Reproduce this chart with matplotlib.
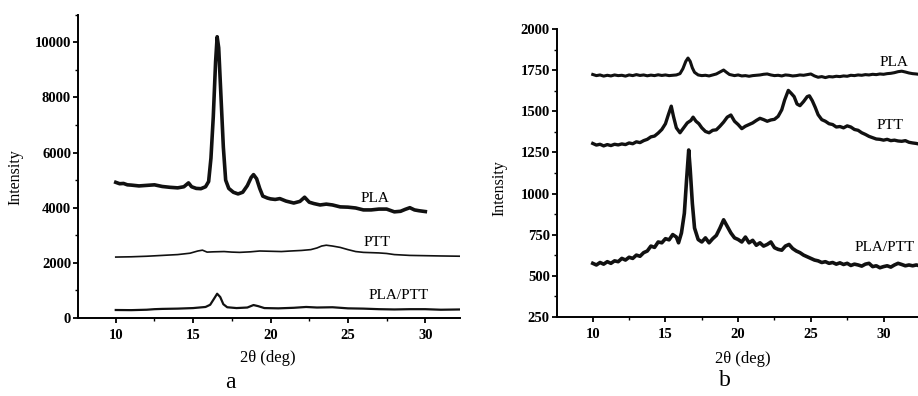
import matplotlib
matplotlib.use("Agg")
import matplotlib.pyplot as plt
from matplotlib.ticker import MultipleLocator

plt.rcParams['font.family'] = ['Liberation Serif', 'DejaVu Serif']

# ---------------- Panel a data ----------------
a_pla_x = [10.0, 10.25, 10.5, 10.75, 11.0, 11.5, 12.0, 12.5, 13.0, 13.5, 14.0, 14.4, 14.7, 14.9,
           15.2, 15.5, 15.8, 16.0, 16.15, 16.3, 16.45, 16.55, 16.65, 16.8, 16.95, 17.1, 17.3,
           17.6, 17.9, 18.2, 18.5, 18.75, 18.9, 19.1, 19.3, 19.5, 19.8, 20.0, 20.3, 20.6, 21.0,
           21.5, 21.9, 22.2, 22.5, 22.8, 23.2, 23.6, 24.0, 24.5, 25.0, 25.5, 26.0, 26.5, 27.0,
           27.5, 28.0, 28.4, 28.7, 29.0, 29.3, 29.6, 30.0]
a_pla_y = [4920, 4870, 4880, 4830, 4820, 4790, 4810, 4830, 4770, 4740, 4720, 4760, 4900, 4760,
           4700, 4690, 4760, 4950, 5800, 7300, 9300, 10200, 9800, 8000, 6200, 5000, 4700,
           4560, 4500, 4560, 4800, 5100, 5200, 5050, 4700, 4420, 4350, 4320, 4300, 4330, 4240,
           4170, 4230, 4380, 4200, 4150, 4100, 4130, 4100, 4030, 4020, 3990, 3920, 3920, 3950,
           3950, 3850, 3870, 3940, 4000, 3920, 3890, 3860]

a_ptt_x = [10, 11, 12, 13, 14, 14.8, 15.3, 15.6, 15.9, 16.3, 17, 17.5, 18, 18.7, 19.3, 20, 20.7,
           21.3, 22, 22.6, 23, 23.3, 23.6, 24.0, 24.5, 25.0, 25.5, 26, 27, 27.5, 28, 29, 30, 31,
           32.3]
a_ptt_y = [2210, 2220, 2240, 2270, 2300, 2350, 2430, 2460, 2390, 2400, 2410, 2390, 2380, 2400,
           2430, 2420, 2410, 2430, 2450, 2480, 2540, 2610, 2640, 2610, 2560, 2480, 2410, 2380,
           2360, 2340, 2300, 2270, 2260, 2250, 2240]

a_blend_x = [10, 11, 12, 12.5, 13, 14, 15, 15.8, 16.1, 16.35, 16.55, 16.75, 16.95, 17.2, 17.8,
             18.5, 18.9, 19.2, 19.6, 20.5, 21.5, 22.3, 23, 24, 25, 26, 27, 28, 29, 30, 31, 32.3]
a_blend_y = [290, 285, 300, 320, 330, 340, 360, 400, 480, 700, 880, 760, 500, 390, 360,
             380, 470, 430, 360, 350, 370, 400, 380, 390, 350, 340, 320, 310, 320, 320, 300, 310]

a_labels = ["PLA", "PTT", "PLA/PTT"]
a_label_pos = [(25.8, 4316), (26.0, 2738), (26.3, 834)]

# ---------------- Panel b data ----------------
b_pla_x = [10.0, 10.25, 10.5, 10.75, 11.0, 11.25, 11.5, 11.75, 12.0, 12.25, 12.5, 12.75, 13.0,
           13.25, 13.5, 13.75, 14.0, 14.25, 14.5, 14.75, 15.0, 15.25, 15.5, 15.75, 16.0, 16.2,
           16.4, 16.55, 16.7, 16.85, 17.0, 17.25, 17.5, 17.75, 18.0, 18.25, 18.5, 18.75, 19.0,
           19.2, 19.4, 19.75, 20.0, 20.25, 20.5, 20.75, 21.0, 21.25, 21.5, 21.75, 22.0, 22.25,
           22.5, 22.75, 23.0, 23.25, 23.5, 23.75, 24.0, 24.25, 24.5, 24.75, 25.0, 25.25, 25.5,
           25.75, 26.0, 26.25, 26.5, 26.75, 27.0, 27.25, 27.5, 27.75, 28.0, 28.25, 28.5, 28.75,
           29.0, 29.25, 29.5, 29.75, 30.0, 30.25, 30.5, 30.75, 31.0, 31.25, 31.5, 31.75, 32.0,
           32.25, 32.4]
b_pla_y = [1725, 1718, 1722, 1715, 1720, 1716, 1722, 1718, 1720, 1715, 1722, 1718, 1724,
           1719, 1722, 1717, 1721, 1718, 1723, 1719, 1722, 1718, 1720, 1722, 1730, 1760,
           1805, 1825, 1805, 1765, 1738, 1722, 1718, 1720, 1716, 1722, 1728, 1740, 1752,
           1738, 1725, 1718, 1722, 1716, 1718, 1714, 1718, 1720, 1722, 1726, 1728, 1722,
           1718, 1720, 1716, 1722, 1720, 1716, 1718, 1722, 1720, 1724, 1728, 1716, 1708,
           1712, 1706, 1712, 1710, 1714, 1712, 1716, 1714, 1720, 1718, 1722, 1720, 1724,
           1722, 1726, 1724, 1728, 1726, 1730, 1732, 1736, 1742, 1745, 1740, 1734, 1730,
           1728, 1726]

b_ptt_x = [10.0, 10.25, 10.5, 10.75, 11.0, 11.25, 11.5, 11.75, 12.0, 12.25, 12.5, 12.75, 13.0,
           13.25, 13.5, 13.75, 14.0, 14.25, 14.5, 14.75, 15.0, 15.2, 15.4, 15.55, 15.75, 16.0,
           16.25, 16.5, 16.75, 16.9, 17.1, 17.3, 17.5, 17.75, 18.0, 18.25, 18.5, 18.75, 19.0,
           19.25, 19.5, 19.75, 20.0, 20.25, 20.5, 20.75, 21.0, 21.25, 21.5, 21.75, 22.0, 22.25,
           22.5, 22.75, 23.0, 23.2, 23.45, 23.65, 23.85, 24.05, 24.25, 24.5, 24.75, 24.9, 25.1,
           25.3, 25.5, 25.75, 26.0, 26.25, 26.5, 26.75, 27.0, 27.25, 27.5, 27.75, 28.0, 28.25,
           28.5, 28.75, 29.0, 29.25, 29.5, 29.75, 30.0, 30.25, 30.5, 30.75, 31.0, 31.25, 31.5,
           31.75, 32.0, 32.25, 32.4]
b_ptt_y = [1305, 1295, 1300, 1290, 1298, 1292, 1300, 1296, 1302, 1298, 1308, 1303, 1315,
           1310, 1322, 1330, 1345, 1350, 1368, 1390, 1425, 1480, 1532, 1470, 1400, 1370,
           1400, 1430, 1445, 1465, 1440, 1425, 1400, 1378, 1370, 1385, 1388, 1410, 1435,
           1465, 1478, 1440, 1420, 1395, 1410, 1420, 1430, 1445, 1458, 1450, 1440, 1448,
           1452, 1470, 1510, 1570, 1628, 1610, 1590, 1545, 1535, 1560, 1590, 1595, 1565,
           1525, 1480, 1450, 1440, 1425, 1420, 1405, 1408, 1400, 1412, 1405, 1390, 1385,
           1370, 1360, 1348, 1340, 1332, 1330, 1325, 1330, 1322, 1325, 1320, 1318, 1322,
           1312, 1308, 1305, 1302]

b_blend_x = [10.0, 10.25, 10.5, 10.75, 11.0, 11.25, 11.5, 11.75, 12.0, 12.25, 12.5, 12.75, 13.0,
             13.25, 13.5, 13.75, 14.0, 14.25, 14.5, 14.75, 15.0, 15.25, 15.5, 15.75, 15.9, 16.1,
             16.3, 16.45, 16.6, 16.7, 16.85, 17.0, 17.25, 17.5, 17.75, 18.0, 18.25, 18.5, 18.75,
             19.0, 19.25, 19.5, 19.75, 20.0, 20.25, 20.5, 20.75, 21.0, 21.25, 21.5, 21.75, 22.0,
             22.25, 22.5, 22.75, 23.0, 23.25, 23.5, 23.75, 24.0, 24.25, 24.5, 24.75, 25.0, 25.25,
             25.5, 25.75, 26.0, 26.25, 26.5, 26.75, 27.0, 27.25, 27.5, 27.75, 28.0, 28.25, 28.5,
             28.75, 29.0, 29.25, 29.5, 29.75, 30.0, 30.25, 30.5, 30.75, 31.0, 31.25, 31.5, 31.75,
             32.0, 32.25, 32.4]
b_blend_y = [575, 565, 580, 570, 585, 575, 590, 585, 605, 595, 612, 605, 625,
             618, 640, 650, 680, 672, 705, 700, 725, 718, 750, 735, 700, 760,
             880, 1080, 1265, 1150, 940, 790, 720, 705, 730, 700, 725, 745, 790,
             840, 800, 760, 730, 720, 705, 735, 700, 715, 685, 700, 680, 690,
             705, 670, 660, 655, 680, 690, 665, 650, 640, 625, 615, 605, 595,
             590, 580, 585, 575, 580, 570, 578, 568, 575, 562, 570, 565, 558,
             570, 575, 555, 560, 548, 555, 560, 552, 565, 575, 568, 560, 565,
             560, 565, 562]

b_labels = ["PLA", "PTT", "PLA/PTT"]
b_label_pos = [(29.7, 1799), (29.5, 1413), (28.0, 672)]

a_yticks = [0, 2000, 4000, 6000, 8000, 10000]
b_yticks = [250, 500, 750, 1000, 1250, 1500, 1750, 2000]
xticks = [10, 15, 20, 25, 30]

W, H = 918, 396
fig = plt.figure(figsize=(W / 100, H / 100), dpi=100)

def style(ax):
    for s in ("top", "right"):
        ax.spines[s].set_visible(False)
    for s in ("left", "bottom"):
        ax.spines[s].set_linewidth(1.4)
    ax.tick_params(which="major", direction="out", length=3.5, width=1.3, labelsize=10.5)
    ax.tick_params(axis="y", which="major", pad=1.5)
    ax.tick_params(axis="x", which="major", pad=4.5)
    ax.tick_params(which="minor", direction="out", length=2.2, width=1.0)
    ax.set_xticks(xticks)
    ax.xaxis.set_minor_locator(MultipleLocator(2.5))
    for lab in ax.get_xticklabels() + ax.get_yticklabels():
        lab.set_fontweight("bold")

# Panel a
axa = fig.add_axes([78 / W, (H - 318) / H, (460 - 78) / W, (318 - 14.7) / H])
axa.plot(a_pla_x, a_pla_y, color="#111111", lw=2.6, solid_joinstyle="round")
axa.plot(a_ptt_x, a_ptt_y, color="#111111", lw=1.2)
axa.plot(a_blend_x, a_blend_y, color="#111111", lw=1.6)
axa.set_xlim(7.56, 32.24)
axa.set_ylim(0, 11000)
axa.set_yticks(a_yticks)
axa.yaxis.set_minor_locator(MultipleLocator(1000))
style(axa)
for lab, (x, y) in zip(a_labels, a_label_pos):
    axa.text(x, y, lab, fontsize=11, ha="left", va="center")
axa.set_ylabel("Intensity", fontsize=11.5)
axa.yaxis.set_label_coords(-0.144, 0.465)
axa.set_xlabel("2θ (deg)", fontsize=12)
axa.xaxis.set_label_coords(0.497, -0.105)
axa.xaxis.label.set_va("top")

# Panel b
axb = fig.add_axes([556.7 / W, (H - 316.7) / H, (W - 556.7) / W, (316.7 - 29.3) / H])
axb.plot(b_pla_x, b_pla_y, color="#111111", lw=2.2)
axb.plot(b_ptt_x, b_ptt_y, color="#111111", lw=2.4)
axb.plot(b_blend_x, b_blend_y, color="#111111", lw=2.6)
axb.set_xlim(7.52, 32.37)
axb.set_ylim(250, 2000)
axb.set_yticks(b_yticks)
axb.yaxis.set_minor_locator(MultipleLocator(125))
style(axb)
for lab, (x, y) in zip(b_labels, b_label_pos):
    axb.text(x, y, lab, fontsize=11, ha="left", va="center", clip_on=False)
axb.set_ylabel("Intensity", fontsize=11.5)
axb.yaxis.set_label_coords(-0.136, 0.448)
axb.set_xlabel("2θ (deg)", fontsize=12)
axb.xaxis.set_label_coords(0.516, -0.12)
axb.xaxis.label.set_va("top")

fig.text(230 / W, 1 - 383 / H, "a", fontsize=17, ha="center", va="center")
fig.text(725 / W, 1 - 381 / H, "b", fontsize=17, ha="center", va="center")

fig.savefig("out.png", dpi=100)
